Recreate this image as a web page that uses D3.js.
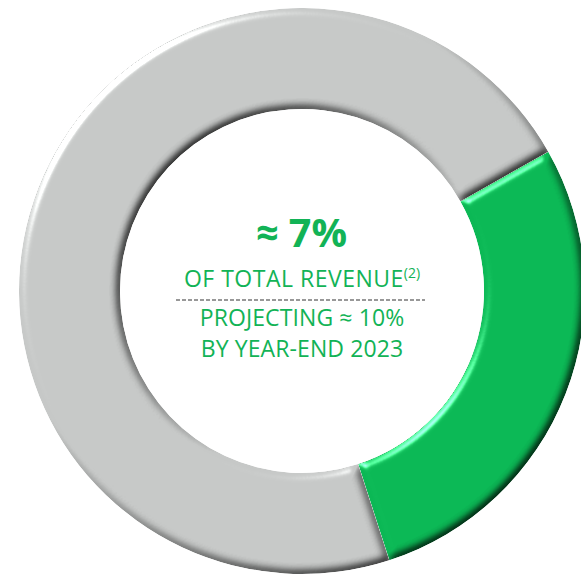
<!DOCTYPE html>
<html><head><meta charset="utf-8">
<script src="https://cdn.jsdelivr.net/npm/d3@7"></script>
<style>html,body{margin:0;padding:0;background:#fff;overflow:hidden}</style>
</head><body>
<svg id="chart" width="581" height="577"></svg>
<script>
const categories = ["Share of total revenue", "Other revenue"];
const values = [28.2, 71.8];
const colors = ["#0bb855", "#c6c8c7"];
const headline = "≈ 7%";
const line1 = "OF TOTAL REVENUE";
const line1Note = "(2)";
const line2 = "PROJECTING ≈ 10%";
const line3 = "BY YEAR-END 2023";

const svg = d3.select("#chart");
const cx = 302, cy = 291, rOuter = 283, rInner = 182;
const defs = svg.append("defs");
const f = defs.append("filter").attr("id","bevel")
  .attr("color-interpolation-filters","sRGB")
  .attr("x","-10%").attr("y","-10%").attr("width","120%").attr("height","120%");
f.append("feGaussianBlur").attr("in","SourceAlpha").attr("stdDeviation",4).attr("result","blur");
f.append("feDiffuseLighting").attr("in","blur").attr("surfaceScale",4).attr("diffuseConstant",1.414)
  .attr("lighting-color","#fff").attr("result","diff")
  .append("feDistantLight").attr("azimuth",225).attr("elevation",45);
f.append("feComposite").attr("in","diff").attr("in2","SourceAlpha").attr("operator","in").attr("result","diffIn");
f.append("feComposite").attr("in","SourceGraphic").attr("in2","diffIn").attr("operator","arithmetic")
  .attr("k1",0.9).attr("k2",0.1).attr("k3",0).attr("k4",0).attr("result","shaded");
f.append("feSpecularLighting").attr("in","blur").attr("surfaceScale",4).attr("specularConstant",0.6)
  .attr("specularExponent",45).attr("lighting-color","#fff").attr("result","spec")
  .append("feDistantLight").attr("azimuth",225).attr("elevation",35);
f.append("feComposite").attr("in","spec").attr("in2","SourceAlpha").attr("operator","in").attr("result","specIn");
f.append("feComposite").attr("in","shaded").attr("in2","specIn").attr("operator","arithmetic")
  .attr("k1",0).attr("k2",1).attr("k3",1).attr("k4",0);

const pie = d3.pie().sort(null).value(d => d)
  .startAngle(60.5 * Math.PI / 180).endAngle(60.5 * Math.PI / 180 + 2 * Math.PI);
const arc = d3.arc().innerRadius(rInner).outerRadius(rOuter);
const color = d3.scaleOrdinal().domain(categories).range(colors);

const g = svg.append("g").attr("transform", `translate(${cx},${cy})`);
g.selectAll("path").data(pie(values)).join("path")
  .attr("d", arc)
  .attr("fill", (d,i) => color(categories[i]))
  .attr("filter","url(#bevel)");

const green = "#12b356";
const font = "'Open Sans', sans-serif";
const t = svg.append("g").attr("font-family", font).attr("fill", green).attr("text-anchor","middle");
t.append("text").attr("x", 301.5).attr("y", 247).attr("font-size", 39.5).attr("font-weight", 700).text(headline);
const l1 = t.append("text").attr("x", 302).attr("y", 287).attr("font-size", 23).attr("letter-spacing", 0.5);
l1.append("tspan").text(line1);
l1.append("tspan").attr("font-size", 14).attr("dy", -9).attr("letter-spacing", 0).text(line1Note);
svg.append("line").attr("x1",176).attr("x2",425).attr("y1",300).attr("y2",300)
  .attr("stroke","#777").attr("stroke-width",1.5).attr("stroke-dasharray","4,2");
t.append("text").attr("x", 302).attr("y", 326).attr("font-size", 23).attr("letter-spacing", 0.1).text(line2);
t.append("text").attr("x", 302).attr("y", 357).attr("font-size", 23).attr("letter-spacing", 0.1).text(line3);
</script>
</body></html>
